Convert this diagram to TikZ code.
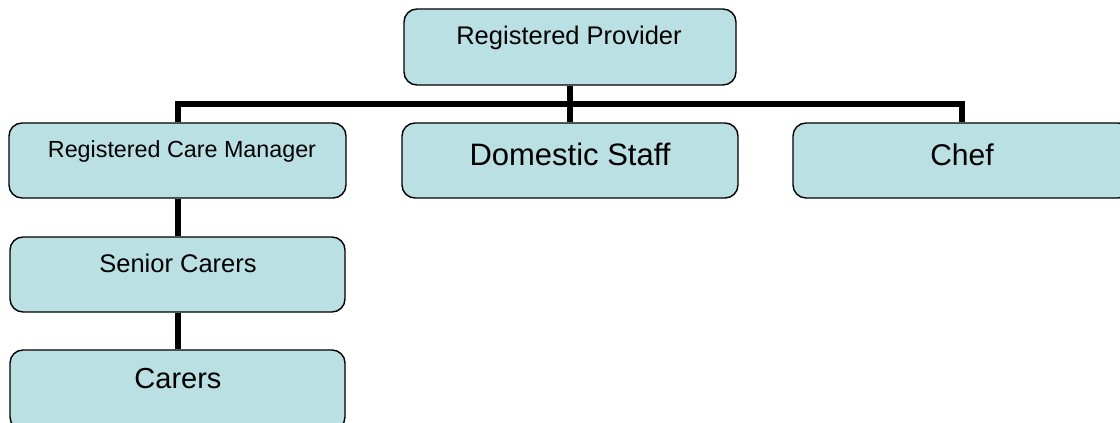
\documentclass[tikz,border=0pt]{standalone}
\usepackage{fontspec}
\setmainfont{Liberation Sans}
\definecolor{boxfill}{HTML}{BBE0E3}
\tikzset{
  orgbox/.style={draw=black, line width=1.4pt, fill=boxfill, rounded corners=13pt, minimum width=#1, inner sep=0pt, anchor=center},
  orgtext/.style={anchor=base, inner sep=0pt, text=black},
  conn/.style={draw=black, line width=6pt}
}
\begin{document}
\begin{tikzpicture}[x=1pt,y=-1pt]
\clip (0,0) rectangle (1120,423);
\useasboundingbox (0,0) rectangle (1120,423);
\node[orgbox=332pt, minimum height=76pt] (rp) at (570,47) {};
\node[orgbox=337pt, minimum height=75pt] (rcm) at (177.5,160.5) {};
\node[orgbox=336pt, minimum height=75pt] (ds) at (570,160.5) {};
\node[orgbox=338pt, minimum height=75pt] (chef) at (962,160.5) {};
\node[orgbox=335pt, minimum height=75pt] (sc) at (177.5,274.5) {};
\node[orgbox=335pt, minimum height=80pt] (car) at (177.5,390) {};
\coordinate (bar) at (570,104);
\draw[conn] (rp.south) -- (bar);
\draw[conn] (rcm.north) |- (bar) -| (chef.north);
\draw[conn] (bar) -- (ds.north);
\draw[conn] (rcm.south) -- (sc.north);
\draw[conn] (sc.south) -- (car.north);
\node[orgtext, font=\fontsize{25.5}{30}\selectfont] (rpt) at (569,45) {Registered Provider};
\node[orgtext, font=\fontsize{23.3}{28}\selectfont] (rcmt) at (182,157) {Registered Care Manager};
\node[orgtext, font=\fontsize{31}{36}\selectfont] (dst) at (570,165) {Domestic Staff};
\node[orgtext, font=\fontsize{30}{36}\selectfont] (cheft) at (962,165) {Chef};
\node[orgtext, font=\fontsize{25.5}{30}\selectfont] (sct) at (178,272) {Senior Carers};
\node[orgtext, font=\fontsize{29}{34}\selectfont] (cart) at (178,388) {Carers};
\end{tikzpicture}
\end{document}
